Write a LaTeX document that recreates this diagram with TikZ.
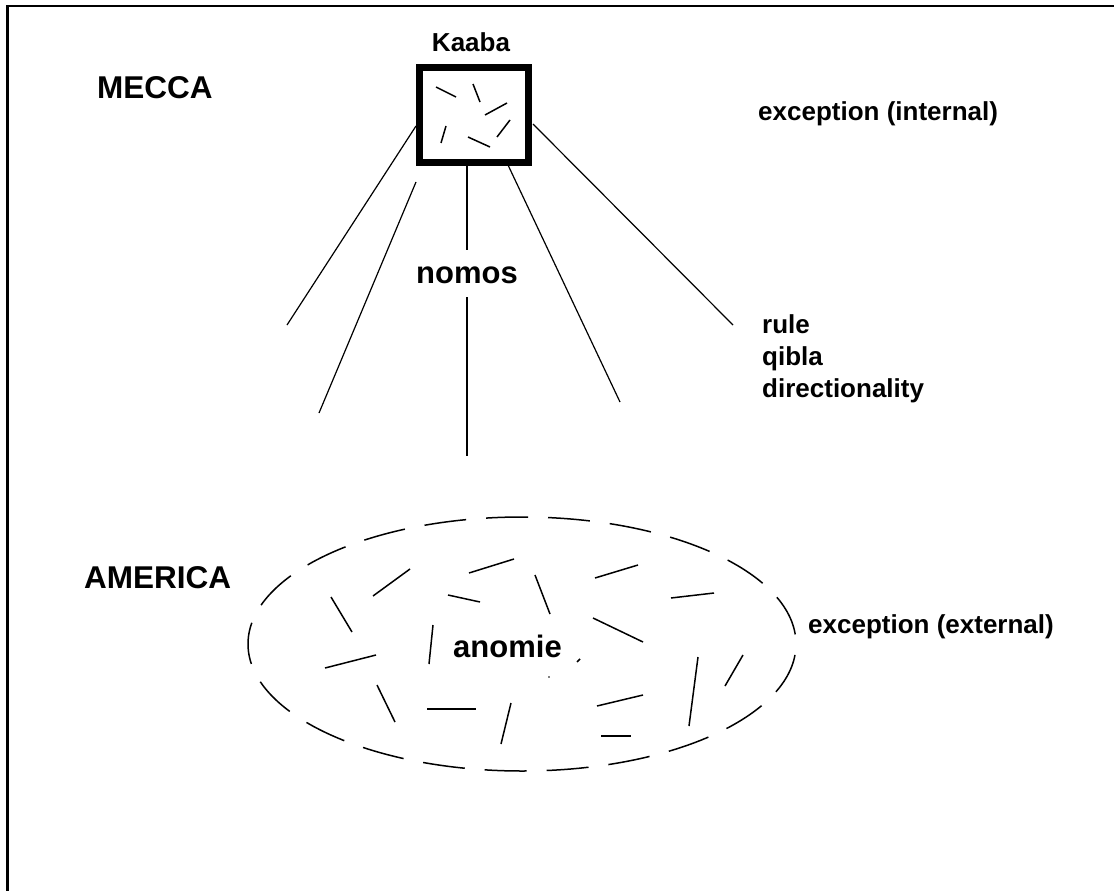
\documentclass[tikz,border=0pt]{standalone}
\usepackage{fontspec}
\setmainfont{Liberation Sans}
\begin{document}
\begin{tikzpicture}[x=1pt,y=-1pt,
  big/.style={font=\bfseries\fontsize{31.5}{38}\selectfont, inner sep=0pt, anchor=base west},
  mid/.style={font=\bfseries\fontsize{31}{38}\selectfont, inner sep=0pt, anchor=base west},
  small/.style={font=\bfseries\fontsize{26}{32}\selectfont, inner sep=0pt, anchor=base west},
  ray/.style={line width=1.2pt},
  scrib/.style={line width=1.5pt},
  frame/.style={line width=2.5pt},
]
\useasboundingbox (0,0) rectangle (1114,891);
% frame (top and left only)
\coordinate (fbl) at (7.5,891);
\coordinate (ftl) at (7.5,6);
\coordinate (ftr) at (1114,6);
\draw[frame] (fbl) -- (ftl) -- (ftr);

% Kaaba
\node[draw, line width=7pt, minimum width=109pt, minimum height=95pt, inner sep=0pt, outer sep=0pt] (kaaba) at (474,115) {};
\node[small, anchor=base] (kaabalbl) at (471,52) {Kaaba};
% scribbles inside the Kaaba
\foreach \a/\b/\c/\d in {436/87/456/97, 473/84/480/102, 485/115/507/103, 510/120/497/137, 446/126/441/143, 468/137/490/147}
  \draw[scrib] (\a,\b) -- (\c,\d);

% labels
\node[big] (mecca) at (97,99) {MECCA};
\node[small] (excint) at (758,120) {exception (internal)};
\node[mid] (nomos) at (416,283) {nomos};
\node[small] (rule) at (762,333) {rule};
\node[small] (qibla) at (762,365) {qibla};
\node[small] (direc) at (762,397) {directionality};
\node[big] (america) at (84,588) {AMERICA};
\node[mid] (anomie) at (453,657) {anomie};
\node[small] (excext) at (808,633) {exception (external)};

% rays
\coordinate (r1s) at (416,126); \coordinate (r1e) at (287,325);
\coordinate (r2s) at (416,182); \coordinate (r2e) at (319,413);
\coordinate (r3s) at (467,166); \coordinate (r3a) at (467,250);
\coordinate (r3b) at (467,297); \coordinate (r3e) at (467,456);
\coordinate (r4s) at (508,165); \coordinate (r4e) at (620,402);
\coordinate (r5s) at (533,124); \coordinate (r5e) at (733,325);
\draw[ray] (r1s) -- (r1e);
\draw[ray] (r2s) -- (r2e);
\draw[ray] (r3s) -- (r3a);
\draw[ray] (r3b) -- (r3e);
\draw[ray] (r4s) -- (r4e);
\draw[ray] (r5s) -- (r5e);

% America ellipse
\draw[line width=1.5pt, dash pattern=on 42pt off 20pt, dash phase=51pt] (522,644) ellipse [x radius=274, y radius=127];
% scribbles inside the ellipse
\foreach \a/\b/\c/\d in {331/597/352/632, 373/596/410/569, 448/595/480/602, 469/573/514/559,
  433/625/429/664, 325/668/376/655, 377/685/395/722, 427/709/476/709, 511/703/501/744,
  535/575/550/614, 595/578/638/565, 671/598/714/593, 593/618/643/642, 577/662/580/659,
  698/657/689/726, 743/655/725/686, 597/706/643/695, 601/736/631/736}
  \draw[scrib] (\a,\b) -- (\c,\d);
\fill (549,677) circle (0.9pt);
\end{tikzpicture}
\end{document}
